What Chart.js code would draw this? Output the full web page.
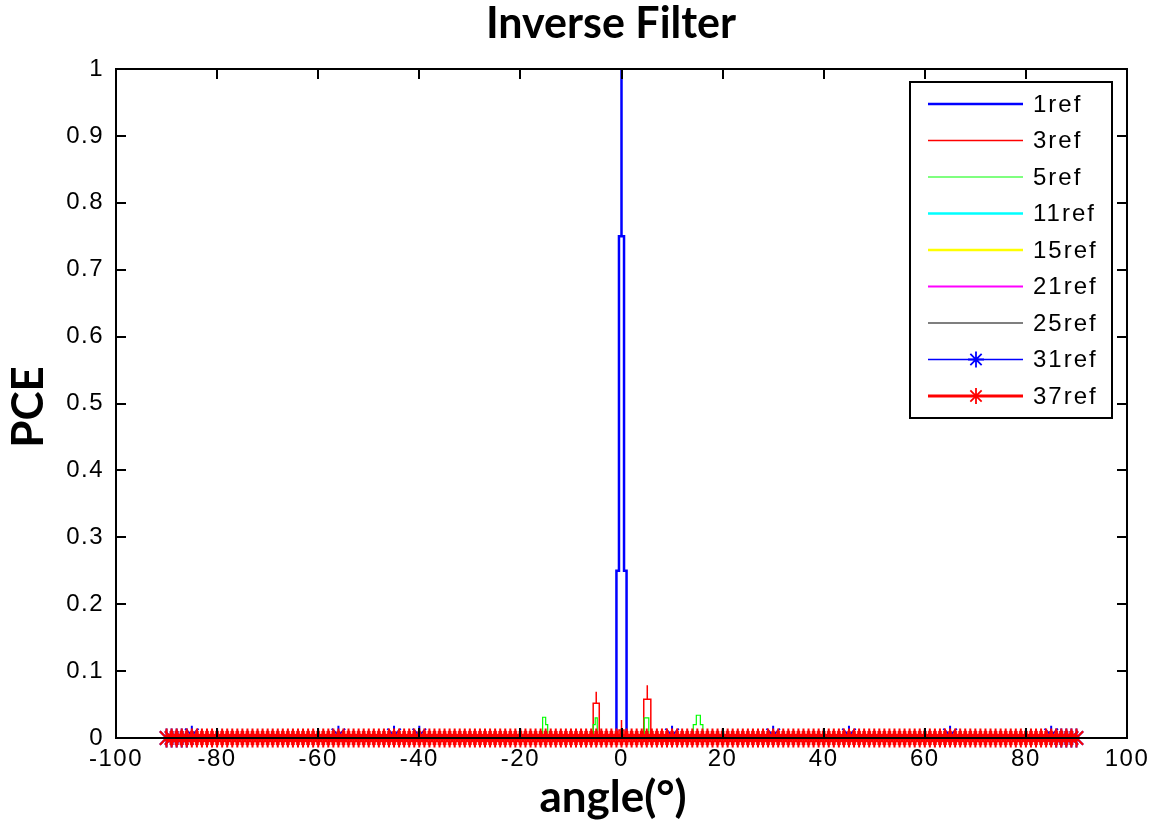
<!DOCTYPE html>
<html>
<head>
<meta charset="utf-8">
<script src="https://cdn.jsdelivr.net/npm/chart.js@4.4.1/dist/chart.umd.min.js"></script>
<style>
  html, body { margin: 0; padding: 0; background: #fff; }
  canvas { display: block; }
</style>
</head>
<body>
<canvas id="pceChart" width="1159" height="828"></canvas>
<script>
// angles sampled by every series (degrees)
const angles = [
  -90,-89,-88,-87,-86,-85,-84,-83,-82,-81,-80,-79,-78,-77,-76,-75,-74,-73,-72,-71,
  -70,-69,-68,-67,-66,-65,-64,-63,-62,-61,-60,-59,-58,-57,-56,-55,-54,-53,-52,-51,
  -50,-49,-48,-47,-46,-45,-44,-43,-42,-41,-40,-39,-38,-37,-36,-35,-34,-33,-32,-31,
  -30,-29,-28,-27,-26,-25,-24,-23,-22,-21,-20,-19,-18,-17,-16,-15,-14,-13,-12,-11,
  -10,-9,-8,-7,-6,-5,-4,-3,-2,-1,0,1,2,3,4,5,6,7,8,9,
  10,11,12,13,14,15,16,17,18,19,20,21,22,23,24,25,26,27,28,29,
  30,31,32,33,34,35,36,37,38,39,40,41,42,43,44,45,46,47,48,49,
  50,51,52,53,54,55,56,57,58,59,60,61,62,63,64,65,66,67,68,69,
  70,71,72,73,74,75,76,77,78,79,80,81,82,83,84,85,86,87,88,89,90
];
const baseline = 0;

const seriesLabels = ['1ref','3ref','5ref','11ref','15ref','21ref','25ref','31ref','37ref'];
const seriesColors = ['#0000ff','#ff0000','#00ff00','#00ffff','#ffff00','#ff00ff','#000000','#0000ff','#ff0000'];
const seriesWidths = [2.5, 1.5, 1.2, 2.5, 2.5, 2, 1.2, 1.5, 3];
const seriesMarkers = [false, false, false, false, false, false, false, true, true];

// non-zero parts, [angle, PCE]
const ref1Peaks = [
  [-1,0],[-1,0.25],[-0.5,0.25],[-0.5,0.75],[0,0.75],[0,1],[0,0.75],
  [0.5,0.75],[0.5,0.25],[1,0.25],[1,0]
];
const ref3Peaks = [
  [-5.6,0],[-5.6,0.052],[-5,0.052],[-5,0.069],[-5,0.052],[-4.4,0.052],[-4.4,0],
  [-0.5,0],[-0.5,0.012],[0,0.012],[0,0.027],[0,0.012],[0.5,0.012],[0.5,0],
  [4.4,0],[4.4,0.058],[5.1,0.058],[5.1,0.079],[5.1,0.058],[5.8,0.058],[5.8,0]
];
const ref5Peaks = [
  [-15.6,0],[-15.6,0.031],[-15,0.031],[-15,0.02],[-14.6,0.02],[-14.6,0],
  [-5.6,0],[-5.6,0.02],[-5.2,0.02],[-5.2,0.03],[-4.8,0.03],[-4.8,0],
  [4.5,0],[4.5,0.03],[5.4,0.03],[5.4,0],
  [14.2,0],[14.2,0.02],[14.8,0.02],[14.8,0.034],[15.6,0.034],[15.6,0.02],[16.1,0.02],[16.1,0]
];
const ref11Peaks = [];
const ref15Peaks = [];
const ref21Peaks = [];
const ref25Peaks = [];
const ref31Peaks = [[-85,0.004],[-56,0.004],[-45,0.004],[-40,0.004],[10,0.004],[30,0.004],[45,0.004],[65,0.004],[85,0.004]];
const ref37Peaks = [];

const xTicks = [-100,-80,-60,-40,-20,0,20,40,60,80,100];
const yTicks = [0,0.1,0.2,0.3,0.4,0.5,0.6,0.7,0.8,0.9,1];

function buildSeries(peaks){
    // merge the zero baseline with the read peaks
    var pts = [];
    var spans = [];
    var i;
    var start = null;
    for(i=0;i<peaks.length;i++){
        if(start===null) start = peaks[i][0];
        if(peaks[i][1]===baseline && i>0 && peaks[i-1][1]!==baseline){ spans.push([start, peaks[i][0]]); start=null; }
        else if(peaks.length===1 || (i===peaks.length-1)) { spans.push([start, peaks[i][0]]); start=null; }
    }
    angles.forEach(function(a){
        var inside = spans.some(function(s){ return a>=s[0] && a<=s[1]; });
        var single = peaks.some(function(p){ return p[0]===a; });
        if(!inside && !single) pts.push({x:a, y:baseline});
    });
    peaks.forEach(function(p){ pts.push({x:p[0], y:p[1]}); });
    pts.sort(function(a,b){ return a.x-b.x; });
    return pts;
}

const allPeaks = [ref1Peaks, ref3Peaks, ref5Peaks, ref11Peaks, ref15Peaks, ref21Peaks, ref25Peaks, ref31Peaks, ref37Peaks];

var datasets = seriesLabels.map(function(lbl, i){
    return {
        label: lbl,
        data: buildSeries(allPeaks[i]),
        borderColor: seriesColors[i],
        backgroundColor: seriesColors[i],
        borderWidth: seriesWidths[i],
        pointStyle: 'star',
        pointRadius: seriesMarkers[i] ? 9.5 : 0,
        pointBorderWidth: 2,
        pointBorderColor: seriesColors[i],
        pointHoverRadius: 0,
        tension: 0,
        clip: false,
        order: seriesLabels.length - i
    };
});

const matlabFrame = {
    id: 'matlabFrame',
    beforeDraw(chart){
        chart.ctx.letterSpacing = '1.5px';
    },
    afterDatasetsDraw(chart){
        const {ctx, chartArea:{left,right,top,bottom}, scales:{x,y}} = chart;
        ctx.save();
        ctx.strokeStyle = '#000';
        ctx.lineWidth = 2;
        ctx.strokeRect(left, top, right-left, bottom-top);
        ctx.beginPath();
        x.ticks.forEach(function(t){
            var px = Math.round(x.getPixelForValue(t.value));
            ctx.moveTo(px, bottom); ctx.lineTo(px, bottom-10);
            ctx.moveTo(px, top); ctx.lineTo(px, top+10);
        });
        y.ticks.forEach(function(t){
            var py = Math.round(y.getPixelForValue(t.value));
            ctx.moveTo(left, py); ctx.lineTo(left+10, py);
            ctx.moveTo(right, py); ctx.lineTo(right-10, py);
        });
        ctx.stroke();
        ctx.restore();
    },
    afterDraw(chart){
        const ctx = chart.ctx;
        ctx.save();
        // legend box
        var bx=910, by=82, bw=202, bh=336;
        ctx.fillStyle='#fff';
        ctx.fillRect(bx,by,bw,bh);
        ctx.strokeStyle='#000';
        ctx.lineWidth=2;
        ctx.strokeRect(bx,by,bw,bh);
        ctx.font='24px "Liberation Sans"';
        ctx.letterSpacing='2px';
        ctx.textBaseline='middle';
        ctx.textAlign='left';
        seriesLabels.forEach(function(lbl,i){
            var ry = 104 + i*36.5;
            ctx.strokeStyle=seriesColors[i];
            ctx.lineWidth=seriesWidths[i];
            ctx.beginPath();
            ctx.moveTo(928,ry); ctx.lineTo(1023,ry);
            ctx.stroke();
            if(seriesMarkers[i]){
                ctx.lineWidth=1.8;
                ctx.beginPath();
                var r=8, d=r*Math.SQRT1_2;
                ctx.moveTo(976,ry-r); ctx.lineTo(976,ry+r);
                ctx.moveTo(976-r,ry); ctx.lineTo(976+r,ry);
                ctx.moveTo(976-d,ry-d); ctx.lineTo(976+d,ry+d);
                ctx.moveTo(976-d,ry+d); ctx.lineTo(976+d,ry-d);
                ctx.stroke();
            }
            ctx.fillStyle='#000';
            ctx.fillText(lbl,1033,ry+1);
        });
        // titles
        ctx.letterSpacing='0px';
        ctx.fillStyle='#000';
        ctx.textAlign='center';
        ctx.textBaseline='alphabetic';
        ctx.font='bold 43px Lato';
        ctx.fillText('Inverse Filter',611,38);
        ctx.font='bold 44px Lato';
        ctx.fillText('angle(\u00b0)',613,812);
        ctx.translate(43,407);
        ctx.rotate(-Math.PI/2);
        ctx.fillText('PCE',0,0);
        ctx.restore();
    }
};

var ctxPce = document.getElementById('pceChart').getContext('2d');
new Chart(ctxPce, {
    type: 'line',
    data: { datasets: datasets },
    options: {
        responsive: false,
        animation: false,
        devicePixelRatio: 1,
        layout: { padding: { top: 69, right: 32, left: 0, bottom: 0 } },
        plugins: {
            legend: { display: false },
            tooltip: { enabled: false },
            title: { display: false }
        },
        scales: {
            x: {
                type: 'linear',
                min: -100, max: 100,
                afterFit(scale){ scale.height = 90; },
                afterBuildTicks(scale){ scale.ticks = xTicks.map(function(v){ return {value:v}; }); },
                grid: { display: false, drawTicks: false },
                border: { display: false },
                ticks: {
                    padding: 7,
                    maxRotation: 0,
                    autoSkip: false,
                    color: '#000',
                    font: { family: 'Liberation Sans', size: 24 }
                }
            },
            y: {
                type: 'linear',
                min: 0, max: 1,
                afterFit(scale){ scale.width = 116; },
                afterBuildTicks(scale){ scale.ticks = yTicks.map(function(v){ return {value:v}; }); },
                grid: { display: false, drawTicks: false },
                border: { display: false },
                ticks: {
                    padding: 12,
                    autoSkip: false,
                    color: '#000',
                    font: { family: 'Liberation Sans', size: 24 },
                    callback: function(v){ return String(+v.toFixed(1)); }
                }
            }
        }
    },
    plugins: [matlabFrame]
});
</script>
</body>
</html>
